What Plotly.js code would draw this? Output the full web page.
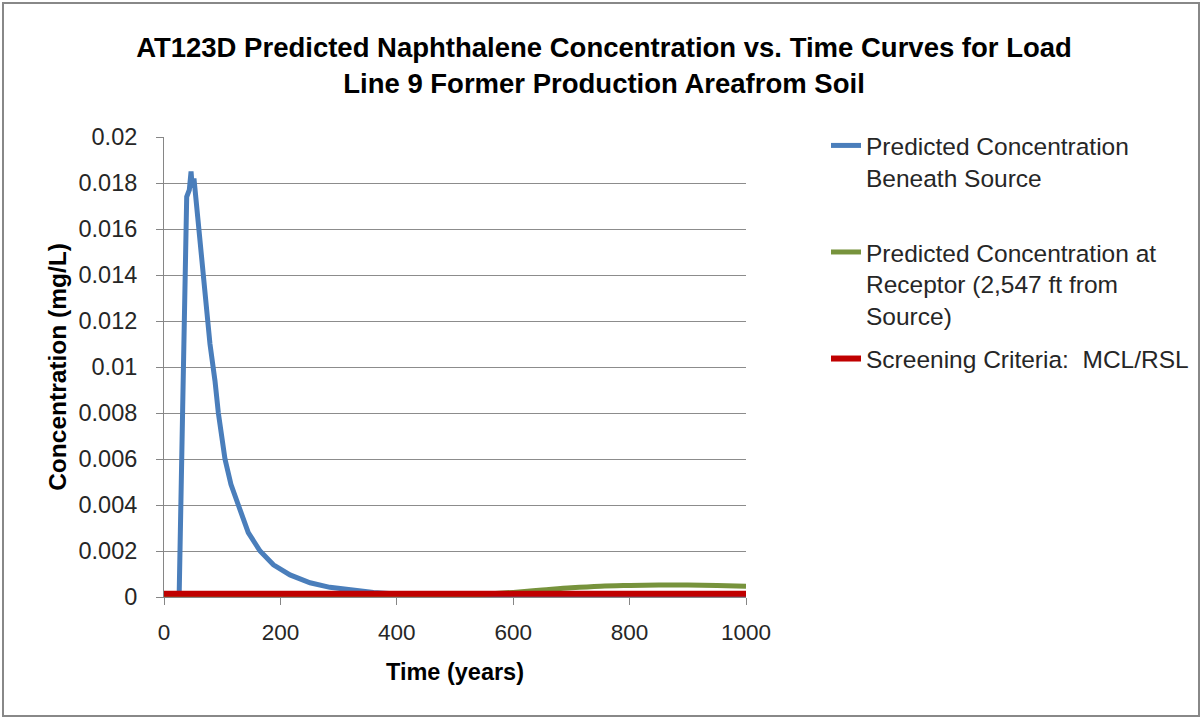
<!DOCTYPE html>
<html>
<head>
<meta charset="utf-8">
<script src="https://cdn.plot.ly/plotly-3.0.1.min.js"></script>
<style>
html,body{margin:0;padding:0;background:#fff;}
#chart{width:1202px;height:719px;}
</style>
</head>
<body>
<div id="chart"></div>
<script>
// Data
const beneathYears = [0, 26, 32, 36, 39, 43.5, 46.5, 48.5, 51.5, 58, 67.5, 79, 87.6, 93.4, 104.8, 115, 127.7, 144.8, 165, 188, 216.5, 251, 285, 320, 360, 420, 500, 600, 700, 1000];
const beneathConc  = [0, 0, 0.0081, 0.0147, 0.0174, 0.0177, 0.0185, 0.0178, 0.0182, 0.0165, 0.0140, 0.0110, 0.0094, 0.0080, 0.0060, 0.0049, 0.0040, 0.0028, 0.0020, 0.0014, 0.00096, 0.00062, 0.00042, 0.0003, 0.0002, 0.0001, 0.00004, 0.00001, 0, 0];

const receptorYears = [0, 400, 450, 500, 550, 600, 650, 700, 750, 800, 850, 900, 950, 1000];
const receptorConc  = [0, 0, 0.00002, 0.00006, 0.00012, 0.0002, 0.0003, 0.0004, 0.00047, 0.0005, 0.00052, 0.00052, 0.0005, 0.00047];

const screeningYears = [0, 1000];
const screeningConc  = [0.00014, 0.00014];

const seriesNames = [
  "Predicted Concentration<br>Beneath Source<br> ",
  "Predicted Concentration at<br>Receptor (2,547 ft from<br>Source)",
  "Screening Criteria:  MCL/RSL"
];

const yTickVals   = [0, 0.002, 0.004, 0.006, 0.008, 0.01, 0.012, 0.014, 0.016, 0.018, 0.02];
const yTickLabels = ["0", "0.002", "0.004", "0.006", "0.008", "0.01", "0.012", "0.014", "0.016", "0.018", "0.02"];
const xTickVals   = [0, 200, 400, 600, 800, 1000];
const xTickLabels = ["0", "200", "400", "600", "800", "1000"];

const FONT = "Liberation Sans, Arial, sans-serif";

const traces = [
  {x: beneathYears, y: beneathConc, name: seriesNames[0], mode: "lines",
   line: {color: "#4A7EBB", width: 5}, legendgroup: "a"},
  {x: receptorYears, y: receptorConc, name: seriesNames[1], mode: "lines",
   line: {color: "#77933C", width: 5, shape: "spline"}, legendgroup: "b"},
  {x: screeningYears, y: screeningConc, name: seriesNames[2], mode: "lines",
   line: {color: "#C00000", width: 6}, legendgroup: "c"}
];

const L = 164, R = 746, T = 137, B = 597;
const pw = R - L, ph = B - T;
function px2x(p){ return (p - L) / pw; }
function py2y(p){ return (B - p) / ph; }

const layout = {
  width: 1202, height: 719,
  margin: {l: L, r: 1202 - R, t: T, b: 719 - B, pad: 0},
  paper_bgcolor: "#ffffff", plot_bgcolor: "#ffffff",
  font: {family: FONT, color: "#262626"},
  title: {
    text: "<b>AT123D Predicted Naphthalene Concentration vs. Time Curves for Load<br>Line 9 Former Production Areafrom Soil</b>",
    font: {family: FONT, size: 27.5, color: "#000000"},
    x: 604/1202, xref: "container", xanchor: "center",
    y: 1 - 57/719, yref: "container", yanchor: "middle"
  },
  xaxis: {
    range: [0, 1000], tickvals: xTickVals, ticktext: xTickLabels,
    showgrid: false, zeroline: false,
    showline: true, linecolor: "#868686", linewidth: 1,
    ticks: "outside", ticklen: 7, tickcolor: "#868686",
    ticklabelstandoff: 8,
    tickfont: {family: FONT, size: 22.5, color: "#262626"},
    title: {text: "<b>Time (years)</b>", font: {family: FONT, size: 23.5, color: "#000000"}, standoff: 19},
    fixedrange: true
  },
  yaxis: {
    range: [0, 0.02], tickvals: yTickVals, ticktext: yTickLabels,
    showgrid: true, gridcolor: "#8C8C8C", gridwidth: 1,
    zeroline: false,
    showline: true, linecolor: "#868686", linewidth: 1,
    ticks: "outside", ticklen: 7, tickcolor: "#868686",
    ticklabelstandoff: 14,
    tickfont: {family: FONT, size: 23.5, color: "#262626"},
    title: {text: "<b>Concentration (mg/L)</b>", font: {family: FONT, size: 24.5, color: "#000000"}, standoff: 4},
    fixedrange: true
  },
  showlegend: true,
  legend: {
    x: 826/1202, xanchor: "left", xref: "container",
    y: 1 - 123/719, yanchor: "top", yref: "container",
    font: {family: FONT, size: 24.5, color: "#262626"},
    valign: "top", tracegroupgap: 8,
    bgcolor: "rgba(0,0,0,0)", borderwidth: 0
  },
  shapes: [
    {type: "rect", xref: "paper", yref: "paper",
     x0: px2x(3), x1: px2x(1199), y0: py2y(716), y1: py2y(3),
     line: {color: "#888888", width: 2}, fillcolor: "rgba(0,0,0,0)", layer: "below"}
  ]
};

Plotly.newPlot("chart", traces, layout, {displayModeBar: false, staticPlot: true});
</script>
</body>
</html>
